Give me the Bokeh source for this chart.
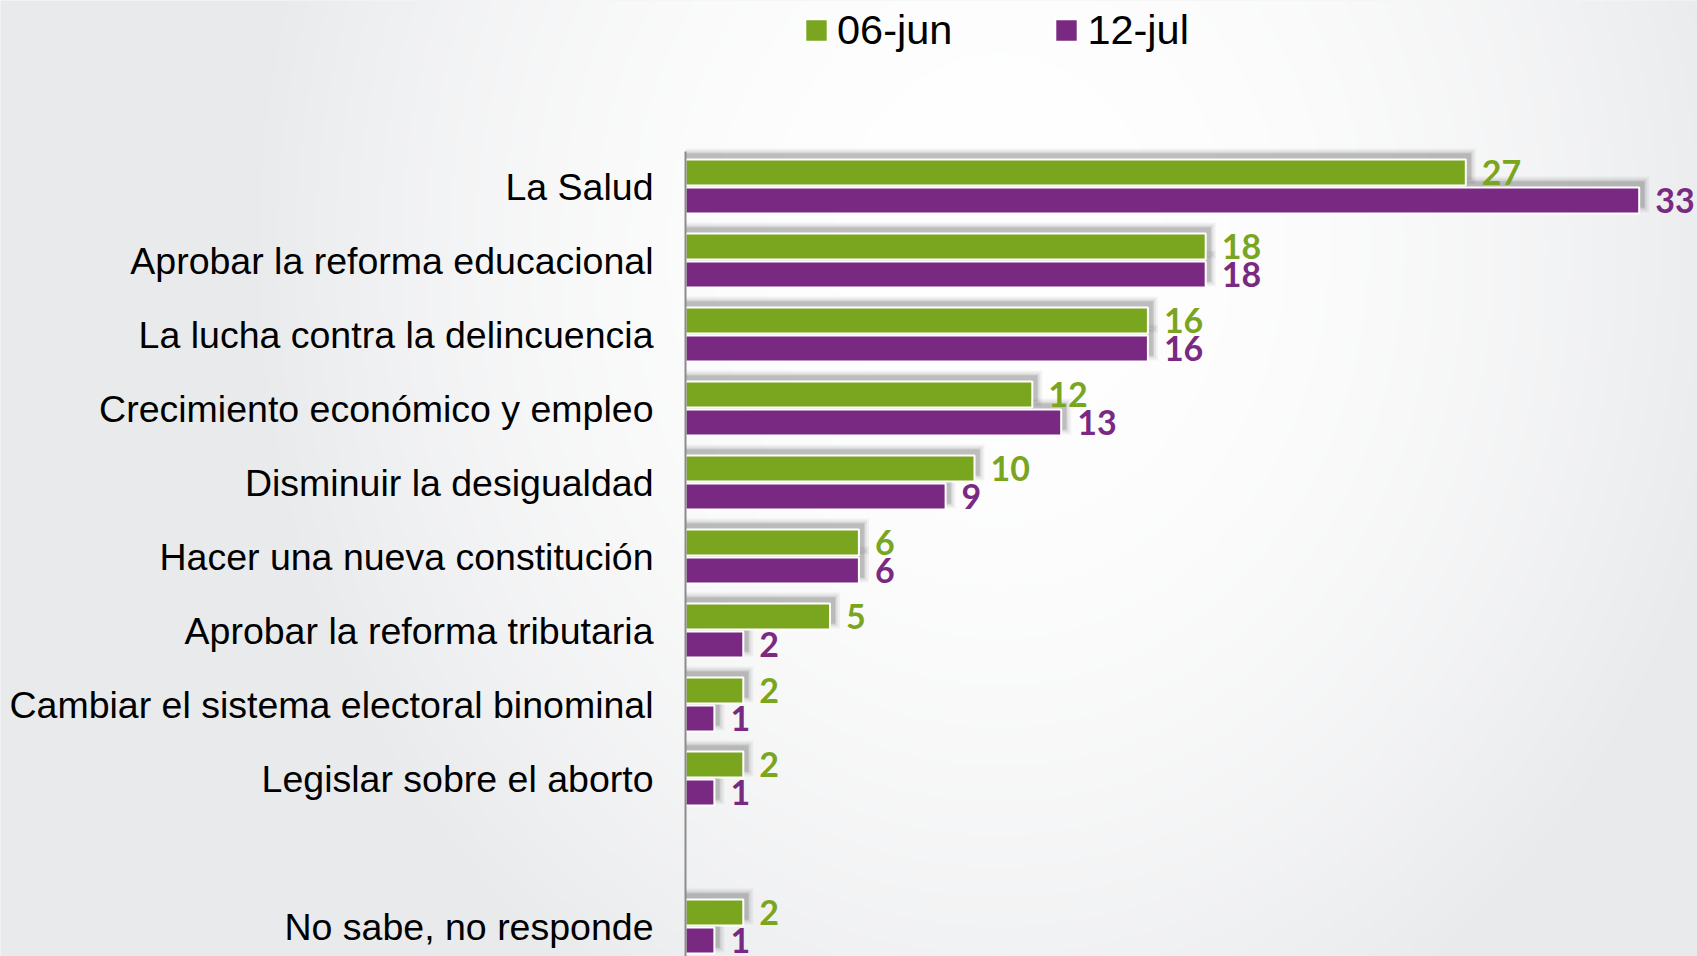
import numpy as np
from bokeh.plotting import figure
from bokeh.models import Range1d, ColumnDataSource, Legend, LegendItem
from bokeh.core.properties import value
from bokeh.embed import file_html
from bokeh.resources import INLINE

# ---------------- data ----------------
categories = ["La Salud", "Aprobar la reforma educacional", "La lucha contra la delincuencia",
              "Crecimiento económico y empleo", "Disminuir la desigualdad",
              "Hacer una nueva constitución", "Aprobar la reforma tributaria",
              "Cambiar el sistema electoral binominal", "Legislar sobre el aborto",
              "No sabe, no responde"]
jun_values = [27, 18, 16, 12, 10, 6, 5, 2, 2, 2]
jul_values = [33, 18, 16, 13, 9, 6, 2, 1, 1, 1]
series_names = ["06-jun", "12-jul"]

# ---------------- layout ----------------
W, H = 1697, 956
AXIS_PX = 685          # screen x of bar base
PX_PER_UNIT = 28.9
TOP_PX = 186           # screen y of first category centre
SLOT_PX = 74
slots = [0, 1, 2, 3, 4, 5, 6, 7, 8, 10]   # gap before "No sabe"
GREEN = "#7AA51E"
PURPLE = "#7A2982"

x0, x1 = -AXIS_PX / PX_PER_UNIT, (W - AXIS_PX) / PX_PER_UNIT
y0, y1 = -(H - TOP_PX) / SLOT_PX, TOP_PX / SLOT_PX

p = figure(width=W, height=H, output_backend="svg", toolbar_location=None,
           x_range=Range1d(x0, x1), y_range=Range1d(y0, y1),
           x_axis_type=None, y_axis_type=None, min_border=0,
           outline_line_color=None, background_fill_color="#eaebed",
           border_fill_color="#eaebed")
p.grid.visible = False

# background radial gradient
step = 4
gw, gh = W // step + 1, H // step + 1
cols = np.arange(gw)
rows = np.arange(gh)
xr = (cols + 0.5) * step
yr = (rows + 0.5) * step
XX, YY = np.meshgrid(xr, yr)
t = np.sqrt(((XX - 1000) / 760) ** 2 + ((YY - 250) / 900) ** 2)
s = np.clip(t, 0, 1) ** 2
edge = np.array([233, 234, 236])
centre = np.array([255, 255, 255])
img = np.empty((gh, gw), dtype=np.uint32)
view = img.view(dtype=np.uint8).reshape((gh, gw, 4))
for k in range(3):
    view[:, :, k] = (centre[k] * (1 - s) + edge[k] * s).astype(np.uint8)
view[:, :, 3] = 255
img = np.flipud(img)
p.image_rgba(image=[img], x=x0, y=y0, dw=x1 - x0, dh=y1 - y0)

bar_h = 26 / SLOT_PX
off = 14 / SLOT_PX
ys = [-s_ for s_ in slots]
y_jun = [y + off for y in ys]
y_jul = [y - off for y in ys]

# shadows (soft, offset up-right)
dx = 5 / PX_PER_UNIT
dy = 6 / SLOT_PX
for grow, alpha in [(5, 0.06), (3, 0.09), (1, 0.14), (0, 0.12)]:
    gx = grow / PX_PER_UNIT
    gy = grow / SLOT_PX
    for yy, vals in [(y_jul, jul_values), (y_jun, jun_values)]:
        p.hbar(y=[y + dy for y in yy], left=0, right=[v + dx + gx for v in vals],
               height=bar_h + 2 * gy, fill_color="#4a4a4a", fill_alpha=alpha, line_color=None)

src_jun = ColumnDataSource(dict(y=y_jun, v=jun_values, t=[str(v) for v in jun_values]))
src_jul = ColumnDataSource(dict(y=y_jul, v=jul_values, t=[str(v) for v in jul_values]))

r_jul = p.hbar(y="y", left=0, right="v", height=bar_h, source=src_jul,
               fill_color=PURPLE, line_color="white", line_width=2)
r_jun = p.hbar(y="y", left=0, right="v", height=bar_h, source=src_jun,
               fill_color=GREEN, line_color="white", line_width=2)

# axis line
p.segment(x0=[0], y0=[(TOP_PX - 151) / SLOT_PX], x1=[0], y1=[y0 - 1],
          line_color="#8c8c8c", line_width=2)

# value labels
for src, col in [(src_jun, GREEN), (src_jul, PURPLE)]:
    p.text(x="v", y="y", text="t", source=src, x_offset=16,
           text_align="left", text_baseline="middle",
           text_font=value("Lato"), text_font_style="bold",
           text_font_size="34px", text_color=col)

# category labels
p.text(x=[0] * len(categories), y=ys, text=categories, x_offset=-32,
       text_align="right", text_baseline="middle",
       text_font=value("Liberation Sans"), text_font_size="37.5px", text_color="#000000")

legend = Legend(items=[LegendItem(label=series_names[0], renderers=[r_jun]),
                       LegendItem(label=series_names[1], renderers=[r_jul])],
                orientation="horizontal", location=(802, H - 54),
                glyph_width=28, glyph_height=28, label_standoff=7, spacing=100,
                padding=0, margin=0, border_line_color=None,
                background_fill_alpha=0, label_text_font="Liberation Sans",
                label_text_font_size="41.5px", label_text_color="#000000",
                label_height=44)
p.add_layout(legend)

open("out.html", "w").write(file_html(p, INLINE))
